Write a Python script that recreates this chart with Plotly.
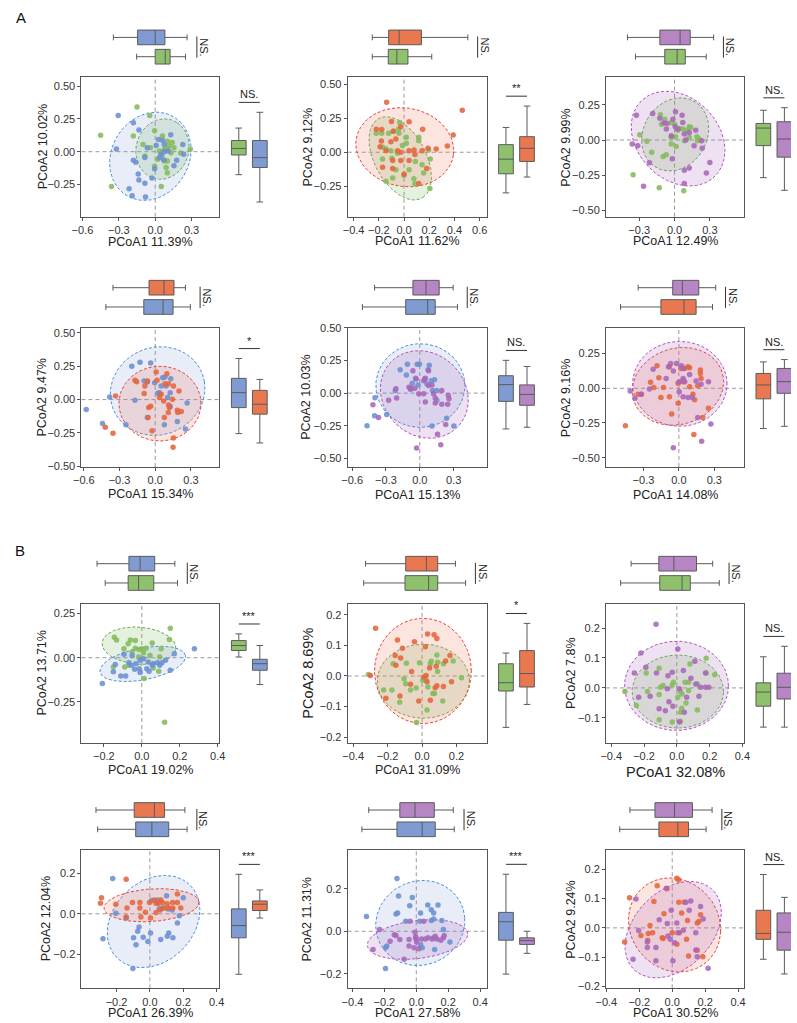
import numpy as np
import plotly.graph_objects as go

W, H = 797, 1023
FONT = "Liberation Sans, Arial, sans-serif"

MARKER = {'blue': '#6b8fd0', 'green': '#84bb5c', 'orange': '#e5653d', 'purple': '#a967b8'}
BOXFILL = {'blue': '#7f9bd1', 'green': '#8fc16d', 'orange': '#e9774f', 'purple': '#b586c3'}
EDGE = {'blue': '#4a8fdc', 'green': '#62ae4b', 'orange': '#e8413a', 'purple': '#b253be'}
FILLC = {'blue': 'rgba(120,150,215,0.17)', 'green': 'rgba(125,185,95,0.20)',
         'orange': 'rgba(240,120,95,0.20)', 'purple': 'rgba(170,110,190,0.20)'}

# ---------------- data: points ----------------
A1_G1_X = [-0.15,-0.45,-0.36,0.05,-0.045,-0.005,-0.18,0.06,0.10,0.115,0.097,0.075,0.035,0.155,0.21,0.29,0.14,0.075,0.09,0.10,-0.005,0.02,-0.085,-0.04,-0.10,0.10,0.13,0.055]
A1_G1_Y = [0.34,0.125,-0.265,-0.265,0.275,0.16,0.12,0.12,0.08,0.043,0.025,0.018,0.005,0.03,-0.01,0.018,0.07,-0.07,-0.12,-0.16,-0.11,-0.058,-0.033,0.03,0.055,-0.07,-0.008,-0.025]
A1_G2_X = [-0.305,-0.18,-0.134,-0.32,-0.18,-0.16,-0.085,-0.065,0.008,0.027,0.06,0.128,0.107,0.07,0.177,0.235,0.228,0.075,0.048,-0.085,-0.027,-0.134,-0.08,-0.19,-0.215,-0.14,-0.005,0.155,0.075,0.035]
A1_G2_Y = [0.275,0.22,0.165,0.02,-0.065,-0.08,-0.045,0.03,0.048,0.093,0.088,0.13,0.005,-0.062,-0.065,-0.02,0.055,0,-0.02,-0.24,-0.2,-0.215,-0.345,-0.335,-0.283,-0.17,-0.13,-0.107,0.055,-0.045]

A2_G1_X = [-0.22,-0.177,-0.122,-0.083,-0.04,-0.044,-0.034,0.117,0.117,0.018,-0.17,-0.143,-0.104,-0.17,-0.096,-0.052,-0.013,0.018,0.195,0.208,0.09,0.143,0.156,0.078,0.086,0.0,-0.09,-0.143,-0.065,0.205,0.04]
A2_G1_Y = [0.14,0.14,0.14,0.156,0.14,0.17,0.22,0.11,0.085,0.11,0.037,0.024,0.012,-0.05,-0.044,-0.007,0.049,0.066,0.017,-0.05,-0.068,-0.093,-0.154,-0.195,-0.232,-0.17,-0.19,-0.215,-0.13,-0.268,-0.13]
A2_G2_X = [-0.138,0.462,0.39,0.148,0.343,0.255,0.19,-0.10,-0.026,0.04,-0.22,-0.177,-0.086,-0.065,-0.104,-0.18,-0.19,-0.143,-0.052,-0.026,0.04,0.08,0.143,0.086,0.04,-0.026,-0.09,-0.17,-0.09,0.18,0.0,0.117]
A2_G2_Y = [0.37,0.31,0.127,0.17,0.046,0.024,0.03,0.227,0.188,0.225,0.17,0.168,0.156,0.098,0.078,0.083,0.041,0.012,0.012,0.0,0.012,0.017,0.012,-0.017,-0.06,-0.06,-0.06,-0.11,-0.12,-0.12,-0.163,-0.23]

A3_G1_X = [-0.12,-0.11,-0.083,-0.028,0.0,0.042,0.028,0.07,0.10,0.138,0.008,-0.028,0.125,0.19,0.208,0.194,-0.235,-0.296,-0.194,-0.097,-0.07,0.014,0.125,-0.352,-0.13,0.078,-0.028,0.083]
A3_G1_Y = [0.18,0.113,0.148,0.125,0.113,0.082,0.07,0.078,0.07,0.09,0.024,0.019,0.019,0.024,0.007,-0.005,-0.009,0.038,-0.087,-0.118,-0.104,-0.047,0.094,-0.247,-0.34,-0.362,-0.028,-0.005]
A3_G2_X = [-0.324,-0.36,-0.313,-0.186,-0.125,-0.09,-0.064,-0.014,0.008,0.064,0.07,0.028,0.006,0.083,0.097,0.125,0.166,0.18,0.23,0.235,-0.213,-0.02,0.083,0.125,0.3,0.27,0.083,-0.263,-0.07,-0.028]
A3_G2_Y = [0.176,-0.028,-0.04,0.188,0.155,0.122,0.118,0.148,0.202,0.176,0.125,0.078,0.094,0.042,0.0,0.054,-0.04,0.07,-0.005,-0.059,-0.162,-0.134,-0.216,-0.2,-0.16,-0.235,-0.31,-0.33,0.078,0.03]

A4_G1_X = [-0.58,-0.443,-0.383,-0.197,-0.128,-0.038,-0.093,-0.066,-0.17,-0.005,0.063,0.082,0.131,0.036,0.104,0.126,0.09,0.268,0.186,0.077,0.254,-0.246,-0.066,0.05,0.022,0.126]
A4_G1_Y = [-0.074,-0.179,0.02,0.25,0.28,0.275,0.139,0.131,-0.005,0.127,0.164,0.169,0.156,0.052,0.015,0.052,0.102,-0.025,-0.164,-0.189,-0.22,-0.189,-0.134,0.102,0.047,-0.052]
A4_G2_X = [-0.333,-0.42,-0.355,-0.17,-0.156,-0.087,-0.093,-0.066,0.008,0.016,0.098,0.112,0.082,0.153,0.2,0.05,0.071,0.112,0.12,0.145,0.186,0.219,0.19,0.11,-0.038,-0.055,-0.06,-0.027,0.153,0.15,0.077,0.036]
A4_G2_Y = [0.027,-0.208,-0.253,0.144,0.134,0.102,0.045,0.139,0.206,0.144,0.194,0.119,0.119,0.102,0.065,0.04,-0.01,-0.04,-0.06,0.002,-0.079,-0.089,-0.097,-0.097,-0.05,-0.06,-0.134,-0.233,-0.288,-0.357,-0.134,0.015]

A5_G1_X = [-0.468,-0.401,-0.398,-0.294,-0.218,-0.174,-0.11,-0.119,-0.038,-0.023,-0.003,0.084,0.073,0.044,0.102,0.131,0.113,0.151,0.064,-0.067,0.108,0.238,0.302,-0.081,-0.015,0.151]
A5_G1_Y = [-0.249,-0.173,-0.035,-0.163,0.02,0.178,0.221,0.138,0.113,0.221,0.221,0.214,0.178,0.108,0.095,0.103,0.02,-0.055,0.07,0.075,-0.251,-0.193,-0.251,0.028,0.063,0.02]
A5_G2_X = [-0.416,-0.366,-0.276,-0.206,-0.212,-0.096,-0.081,-0.061,-0.044,-0.032,0.035,0.049,0.078,0.078,0.108,0.035,0.049,0.122,0.137,0.195,0.195,0.253,0.259,0.247,0.23,0.157,0.186,-0.029,0.137,-0.009]
A5_G2_Y = [-0.088,-0.186,-0.055,-0.038,0.033,0.045,0.038,0.171,0.038,0.108,0.095,0.113,0.171,0.058,0.063,-0.005,-0.068,-0.005,-0.075,0.02,-0.085,-0.018,-0.043,-0.085,-0.239,-0.314,-0.394,-0.42,-0.038,-0.005]

A6_G1_X = [-0.453,-0.345,-0.318,-0.24,-0.213,-0.169,-0.152,-0.185,-0.13,-0.08,-0.08,-0.061,-0.006,0.017,0.036,0.036,0.05,0.077,0.091,0.091,0.16,0.119,0.133,0.182,0.182,0.251,0.127,0.202,0.188,-0.006]
A6_G1_Y = [-0.269,-0.043,-0.043,0.043,0.005,0.076,-0.067,0.162,0.005,-0.06,0.155,-0.186,-0.107,0.143,0.06,0.048,0.143,0.155,0.148,0.012,0.019,-0.043,-0.083,0.131,0.107,-0.143,-0.333,-0.21,0.071,0.036]
A6_G2_X = [-0.412,-0.373,-0.318,-0.249,-0.218,-0.108,-0.088,-0.069,-0.047,-0.019,0.022,0.036,0.05,0.003,0.003,0.036,0.077,0.113,0.146,0.188,0.251,0.16,0.271,0.193,-0.047,0.036,0.091]
A6_G2_Y = [-0.019,-0.071,-0.043,-0.005,0.138,0.071,0.155,0.179,0.124,0.179,0.162,0.071,0.048,0.048,-0.024,-0.06,-0.067,-0.067,0.052,0.029,0.048,-0.21,-0.257,-0.381,-0.429,0.143,0.1]

B1_G1_X = [-0.145,-0.133,-0.15,-0.094,-0.09,-0.072,-0.06,-0.034,-0.034,-0.051,-0.014,0.0,0.009,0.022,0.043,0.055,0.094,0.102,0.15,0.145,0.089,0.012,-0.068,0.12,0.06,-0.017]
B1_G1_Y = [0.116,0.101,-0.052,0.051,-0.052,0.079,0.101,0.097,0.054,0.032,0.047,0.051,0.028,0.054,0.013,0.084,0.004,0.051,0.167,0.103,-0.077,-0.118,-0.043,-0.365,-0.058,0.004]
B1_G2_X = [-0.208,-0.15,-0.111,-0.085,-0.14,-0.094,-0.068,-0.055,-0.038,-0.031,-0.014,-0.009,0.009,0.026,0.038,0.06,0.082,0.094,0.106,0.125,0.15,0.171,0.277,-0.051,0.055,-0.009,0.034]
B1_G2_Y = [-0.146,-0.08,-0.103,-0.103,-0.039,0.019,-0.028,-0.043,-0.066,-0.034,-0.062,-0.015,-0.006,-0.062,-0.077,-0.034,-0.028,-0.043,-0.028,-0.015,-0.071,0.022,0.051,0.013,-0.043,-0.084,-0.024]

B2_G1_X = [-0.312,-0.223,-0.175,-0.168,-0.091,-0.015,-0.105,-0.095,-0.034,0.004,0.015,0.034,0.048,0.053,0.086,0.09,0.09,0.124,0.181,0.229,-0.13,-0.067,0.063,0.072,0.12,0.029,-0.032,0.023]
B2_G1_Y = [0.005,-0.046,-0.046,0.04,0.042,0.043,-0.009,-0.025,-0.039,-0.014,-0.009,-0.036,0.04,0.048,0.069,0.045,0.015,0.04,0.049,-0.006,-0.086,-0.046,-0.057,-0.057,-0.082,-0.111,-0.152,-0.014]
B2_G2_X = [-0.27,-0.30,-0.143,-0.114,-0.044,0.019,0.032,0.07,0.086,-0.124,-0.152,-0.156,-0.061,0.01,0.044,0.082,0.137,0.162,-0.067,0.029,0.086,0.076,0.124,0.171,-0.019,0.048,-0.128,-0.21,0.023]
B2_G2_Y = [0.156,0.002,0.118,0.091,0.112,0.096,0.137,0.135,0.123,0.059,0.035,0.067,0.015,-0.003,0.026,0.032,0.049,0.067,-0.027,-0.019,-0.032,-0.038,-0.034,-0.019,-0.082,-0.079,-0.065,-0.073,0.002]

B3_G1_X = [-0.317,-0.247,-0.187,-0.179,-0.108,-0.1,-0.108,-0.084,-0.028,-0.02,0.022,0.006,0.032,0.05,0.056,0.072,0.072,0.08,0.03,0.022,0.022,-0.028,-0.108,0.125,0.179,0.179,0.231,0.125]
B3_G1_Y = [-0.012,-0.059,0.05,-0.012,0.066,0.002,-0.022,0.008,0.01,0.019,-0.012,-0.031,-0.02,0.019,-0.05,0.019,-0.009,0.08,-0.068,-0.081,-0.111,-0.114,-0.106,-0.074,0.099,0.05,0.044,0.013]
B3_G2_X = [-0.127,-0.219,-0.259,-0.189,-0.124,-0.054,-0.028,0.006,0.04,0.086,0.11,0.116,0.145,0.175,0.175,0.195,0.135,-0.163,-0.108,-0.048,-0.07,-0.024,0.016,0.06,0.046,0.016,-0.058,-0.233]
B3_G2_Y = [0.213,0.117,0.05,0.069,0.05,0.041,0.052,0.13,0.058,0.032,0.089,0.013,0.002,0.05,0.002,0.002,-0.028,-0.028,-0.07,-0.046,-0.076,-0.061,-0.003,-0.031,-0.081,-0.114,-0.003,-0.031]

B4_G1_X = [-0.223,-0.281,-0.204,-0.142,-0.098,-0.073,-0.065,-0.083,-0.04,-0.012,0.004,-0.102,0.011,0.046,0.056,0.075,0.1,0.108,0.113,0.104,0.065,0.138,0.165,0.2,0.177,0.133]
B4_G1_Y = [0.173,-0.123,0.003,-0.021,-0.118,-0.086,-0.065,-0.152,-0.115,-0.136,-0.094,-0.269,0.065,0.068,0.023,0.028,0.088,0.023,-0.094,-0.11,-0.126,-0.118,-0.045,0.079,-0.01,0.019]
B4_G2_X = [-0.29,-0.296,-0.204,-0.142,-0.137,-0.104,-0.06,-0.054,-0.142,-0.027,-0.002,0.027,0.037,0.05,0.065,0.075,0.104,0.113,0.085,0.137,0.165,0.165,0.185,0.004,-0.06,0.037,0.062,0.138]
B4_G2_Y = [0.079,0.052,0.047,0.169,0.028,0.055,0.055,-0.016,-0.016,0.008,0.055,0.068,0.052,0.049,0.068,0.055,0.049,0.028,0.028,0.055,0.097,0.055,0.028,-0.021,0.028,0.006,0.019,0.028]

B5_G1_X = [-0.121,-0.312,-0.117,-0.111,-0.127,-0.041,-0.025,0.027,0.072,0.094,0.109,0.136,0.16,0.17,0.109,-0.066,0.021,0.027,0.037,0.109,0.115,0.211,-0.193,-0.185,-0.193,0.094,-0.004]
B5_G1_Y = [0.249,0.07,0.086,0.166,0.082,0.12,0.159,0.086,0.124,0.101,0.086,0.124,0.051,0.008,0.058,0.047,0.047,-0.062,-0.078,-0.031,-0.086,-0.051,-0.078,-0.07,-0.176,0.051,-0.031]
B5_G2_X = [-0.271,-0.23,-0.164,-0.127,-0.103,-0.045,-0.045,-0.039,-0.008,-0.004,0.0,-0.014,0.016,0.057,0.074,0.099,0.119,0.129,0.154,0.17,0.175,0.047,-0.076,-0.138,0.033,0.002]
B5_G2_Y = [-0.086,0.008,-0.047,-0.02,-0.039,-0.07,-0.039,0.047,-0.005,-0.026,-0.039,-0.078,-0.082,-0.036,-0.031,-0.036,-0.023,-0.036,-0.042,-0.031,-0.02,0.047,-0.132,-0.016,-0.036,-0.051]

B6_G1_X = [-0.289,-0.259,-0.091,0.028,0.04,-0.032,-0.111,0.04,0.073,0.057,0.093,0.152,0.162,0.172,-0.05,-0.135,-0.19,-0.145,-0.119,-0.061,-0.055,0.0,0.044,0.087,0.028,0.152,0.099,0.186,-0.149]
B6_G1_Y = [-0.048,0.103,0.144,0.169,0.163,0.133,0.09,0.087,0.087,0.051,0.025,0.017,0.022,0.045,0.048,0.008,-0.026,-0.019,-0.017,-0.034,-0.036,-0.017,-0.017,-0.039,-0.056,-0.076,-0.096,-0.098,-0.042]
B6_G2_X = [-0.22,-0.238,-0.204,-0.151,-0.151,-0.099,-0.099,-0.079,-0.03,-0.036,-0.006,0.028,0.034,0.014,-0.026,0.004,0.083,0.113,0.103,0.172,0.188,0.143,0.143,0.152,0.218,-0.012,0.067]
B6_G2_Y = [0.098,-0.107,-0.009,-0.048,-0.067,-0.067,-0.112,0.028,0.015,0.135,0.06,0.017,-0.017,-0.051,-0.028,-0.112,0.087,0.092,0.06,0.073,0.03,-0.017,-0.075,-0.098,-0.138,-0.039,-0.008]

# ---------------- data: confidence ellipses [cx, cy, a, b, angle_deg] ----------------
A1_ELL = [[0.06, 0.02, 0.235, 0.215, 60], [-0.04, -0.035, 0.36, 0.31, 45]]
A2_ELL = [[-0.03, -0.045, 0.34, 0.20, -58], [0.006, 0.037, 0.39, 0.29, -8]]
A3_ELL = [[0.005, 0.04, 0.297, 0.247, 30], [0.03, 0.01, 0.42, 0.31, -28]]
A4_ELL = [[0.02, 0.064, 0.40, 0.33, 10], [0.04, -0.03, 0.345, 0.28, 0]]
A5_ELL = [[0.005, 0.058, 0.395, 0.32, 0], [0.04, -0.01, 0.398, 0.326, -20]]
A6_ELL = [[-0.008, 0.014, 0.39, 0.276, 10], [0.008, 0.032, 0.40, 0.306, 0]]
B1_ELL = [[-0.015, 0.068, 0.195, 0.105, -5], [0.005, -0.035, 0.23, 0.09, 12]]
B2_ELL = [[0.008, -0.017, 0.268, 0.121, 0], [0.005, 0.0165, 0.281, 0.172, 0]]
B3_ELL = [[0.006, -0.012, 0.279, 0.122, 0], [-0.002, 0.007, 0.317, 0.149, 0]]
B4_ELL = [[0.022, -0.038, 0.29, 0.21, 25], [0.01, 0.042, 0.285, 0.08, 3]]
B5_ELL = [[0.025, 0.039, 0.28, 0.20, 5], [0.008, -0.039, 0.316, 0.09, 5]]
B6_ELL = [[0.014, 0.01, 0.281, 0.159, -5], [0.006, -0.006, 0.30, 0.15, 15]]

# ---------------- data: box stats [lowerfence, q1, median, q3, upperfence] ----------------
A1_TOP = [[-0.153, 0.0, 0.083, 0.123, 0.25], [-0.345, -0.145, 0.0, 0.08, 0.263]]
A1_RIGHT = [[-0.175, -0.025, 0.025, 0.085, 0.18], [-0.383, -0.12, -0.045, 0.085, 0.30]]
A2_TOP = [[-0.252, -0.125, -0.057, 0.031, 0.22], [-0.252, -0.122, -0.039, 0.138, 0.506]]
A2_RIGHT = [[-0.30, -0.159, -0.051, 0.056, 0.183], [-0.183, -0.068, 0.029, 0.115, 0.341]]
A3_TOP = [[-0.332, -0.083, 0.022, 0.091, 0.269], [-0.40, -0.125, 0.047, 0.133, 0.332]]
A3_RIGHT = [[-0.268, -0.04, 0.085, 0.118, 0.212], [-0.358, -0.122, 0.007, 0.13, 0.23]]
A4_TOP = [[-0.415, -0.096, 0.066, 0.15, 0.295], [-0.355, -0.052, 0.074, 0.158, 0.254]]
A4_RIGHT = [[-0.255, -0.06, 0.052, 0.159, 0.308], [-0.325, -0.109, -0.035, 0.069, 0.151]]
A5_TOP = [[-0.509, -0.125, 0.07, 0.137, 0.334], [-0.401, -0.061, 0.055, 0.172, 0.296]]
A5_RIGHT = [[-0.274, -0.063, 0.065, 0.133, 0.251], [-0.261, -0.093, -0.01, 0.063, 0.204]]
A6_TOP = [[-0.494, -0.152, 0.044, 0.146, 0.285], [-0.345, -0.052, 0.03, 0.169, 0.312]]
A6_RIGHT = [[-0.29, -0.076, 0.024, 0.107, 0.19], [-0.274, -0.036, 0.048, 0.143, 0.207]]
B1_TOP = [[-0.193, -0.072, -0.017, 0.063, 0.188], [-0.236, -0.068, -0.009, 0.068, 0.174]]
B1_RIGHT = [[0.004, 0.041, 0.069, 0.097, 0.135], [-0.152, -0.071, -0.034, -0.009, 0.069]]
B2_TOP = [[-0.339, -0.099, 0.038, 0.091, 0.253], [-0.328, -0.095, 0.025, 0.091, 0.194]]
B2_RIGHT = [[-0.168, -0.049, -0.022, 0.04, 0.075], [-0.093, -0.036, 0.008, 0.083, 0.172]]
B3_TOP = [[-0.343, -0.104, 0.032, 0.082, 0.259], [-0.279, -0.11, -0.018, 0.12, 0.219]]
B3_RIGHT = [[-0.131, -0.061, -0.014, 0.017, 0.104], [-0.131, -0.037, 0.002, 0.049, 0.139]]
B4_TOP = [[-0.313, -0.085, 0.012, 0.113, 0.223], [-0.323, -0.094, 0.027, 0.088, 0.21]]
B4_RIGHT = [[-0.297, -0.118, -0.058, 0.024, 0.194], [-0.021, 0.016, 0.047, 0.063, 0.117]]
B5_TOP = [[-0.341, -0.121, 0.037, 0.119, 0.238], [-0.298, -0.103, -0.008, 0.113, 0.232]]
B5_RIGHT = [[-0.202, -0.042, 0.045, 0.089, 0.269], [-0.104, -0.062, -0.044, -0.031, 0.0]]
B6_TOP = [[-0.319, -0.081, 0.034, 0.099, 0.206], [-0.257, -0.105, 0.014, 0.123, 0.242]]
B6_RIGHT = [[-0.107, -0.039, -0.019, 0.06, 0.182], [-0.157, -0.076, -0.015, 0.051, 0.104]]

# ---------------- labels / ticks ----------------
X_TITLES = ['PCoA1 11.39%', 'PCoA1 11.62%', 'PCoA1 12.49%', 'PCoA1 15.34%', 'PCoA1 15.13%', 'PCoA1 14.08%',
            'PCoA1 19.02%', 'PCoA1 31.09%', 'PCoA1 32.08%', 'PCoA1 26.39%', 'PCoA1 27.58%', 'PCoA1 30.52%']
Y_TITLES = ['PCoA2 10.02%', 'PCoA2 9.12%', 'PCoA2 9.99%', 'PCoA2 9.47%', 'PCoA2 10.03%', 'PCoA2 9.16%',
            'PCoA2 13.71%', 'PCoA2 8.69%', 'PCoA2 7.8%', 'PCoA2 12.04%', 'PCoA2 11.31%', 'PCoA2 9.24%']
SIG_TOP = ['NS.'] * 12
SIG_RIGHT = ['NS.', '**', 'NS.', '*', 'NS.', 'NS.', '***', '*', 'NS.', '***', '***', 'NS.']
GROUPS = [('green', 'blue'), ('green', 'orange'), ('green', 'purple'),
          ('blue', 'orange'), ('blue', 'purple'), ('orange', 'purple'),
          ('green', 'blue'), ('green', 'orange'), ('green', 'purple'),
          ('blue', 'orange'), ('blue', 'purple'), ('orange', 'purple')]
X_RANGES = [[-0.608, 0.53], [-0.447, 0.655], [-0.582, 0.59], [-0.62, 0.54], [-0.64, 0.593], [-0.617, 0.552],
            [-0.318, 0.409], [-0.432, 0.375], [-0.432, 0.41], [-0.41, 0.417], [-0.43, 0.441], [-0.402, 0.436]]
Y_RANGES = [[-0.495, 0.567], [-0.476, 0.554], [-0.546, 0.447], [-0.505, 0.54], [-0.565, 0.502], [-0.567, 0.438],
            [-0.483, 0.307], [-0.219, 0.237], [-0.184, 0.282], [-0.366, 0.314], [-0.269, 0.384], [-0.206, 0.266]]
X_TICKS = [[-0.6, -0.3, 0, 0.3], [-0.4, -0.2, 0, 0.2, 0.4, 0.6], [-0.3, 0, 0.3], [-0.6, -0.3, 0, 0.3],
           [-0.6, -0.3, 0, 0.3], [-0.3, 0, 0.3], [-0.2, 0, 0.2, 0.4], [-0.4, -0.2, 0, 0.2],
           [-0.4, -0.2, 0, 0.2, 0.4], [-0.2, 0, 0.2, 0.4], [-0.4, -0.2, 0, 0.2, 0.4], [-0.4, -0.2, 0, 0.2, 0.4]]
Y_TICKS = [[-0.25, 0, 0.25, 0.5], [-0.25, 0, 0.25, 0.5], [-0.5, -0.25, 0, 0.25], [-0.5, -0.25, 0, 0.25, 0.5],
           [-0.5, -0.25, 0, 0.25, 0.5], [-0.5, -0.25, 0, 0.25], [-0.25, 0, 0.25], [-0.2, -0.1, 0, 0.1, 0.2],
           [-0.1, 0, 0.1, 0.2], [-0.2, 0, 0.2], [-0.2, 0, 0.2], [-0.2, -0.1, 0, 0.1, 0.2]]
Y_FMT = ['.2f'] * 7 + ['.1f'] * 5

PTS = [((A1_G1_X, A1_G1_Y), (A1_G2_X, A1_G2_Y)), ((A2_G1_X, A2_G1_Y), (A2_G2_X, A2_G2_Y)),
       ((A3_G1_X, A3_G1_Y), (A3_G2_X, A3_G2_Y)), ((A4_G1_X, A4_G1_Y), (A4_G2_X, A4_G2_Y)),
       ((A5_G1_X, A5_G1_Y), (A5_G2_X, A5_G2_Y)), ((A6_G1_X, A6_G1_Y), (A6_G2_X, A6_G2_Y)),
       ((B1_G1_X, B1_G1_Y), (B1_G2_X, B1_G2_Y)), ((B2_G1_X, B2_G1_Y), (B2_G2_X, B2_G2_Y)),
       ((B3_G1_X, B3_G1_Y), (B3_G2_X, B3_G2_Y)), ((B4_G1_X, B4_G1_Y), (B4_G2_X, B4_G2_Y)),
       ((B5_G1_X, B5_G1_Y), (B5_G2_X, B5_G2_Y)), ((B6_G1_X, B6_G1_Y), (B6_G2_X, B6_G2_Y))]
ELLS = [A1_ELL, A2_ELL, A3_ELL, A4_ELL, A5_ELL, A6_ELL, B1_ELL, B2_ELL, B3_ELL, B4_ELL, B5_ELL, B6_ELL]
TOPS = [A1_TOP, A2_TOP, A3_TOP, A4_TOP, A5_TOP, A6_TOP, B1_TOP, B2_TOP, B3_TOP, B4_TOP, B5_TOP, B6_TOP]
RIGHTS = [A1_RIGHT, A2_RIGHT, A3_RIGHT, A4_RIGHT, A5_RIGHT, A6_RIGHT,
          B1_RIGHT, B2_RIGHT, B3_RIGHT, B4_RIGHT, B5_RIGHT, B6_RIGHT]

# ---------------- layout geometry (pixels) ----------------
COLS = [(72, 213), (344, 486), (608, 749)]
ROWS = [(72, 213), (325, 466), (604, 745), (853, 993)]
YT_OFF = [39, 41, 41, 40, 42, 41, 40, 40, 36, 36, 41, 36]
XT_OFF = [26, 25, 25, 27, 28, 28, 27, 27, 29, 25, 25, 25]
XT_SIZE = [12.5] * 8 + [14.5] + [12.5] * 3
YT_SIZE = [12.5] * 7 + [14.5] + [12.5] * 4
RB_UNIT = 21.5  # px per box slot in the right-hand box panel


def px(x):
    return min(max(x / W, 0.0), 1.0)


def py(y):
    return min(max(1 - y / H, 0.0), 1.0)


def ell_xy(p):
    cx, cy, a, b, ang = p
    t = np.linspace(0, 2 * np.pi, 160)
    th = np.deg2rad(ang)
    x = cx + a * np.cos(t) * np.cos(th) - b * np.sin(t) * np.sin(th)
    y = cy + a * np.cos(t) * np.sin(th) + b * np.sin(t) * np.cos(th)
    return x, y


traces, shapes, annos = [], [], []
lay = dict(width=W, height=H, margin=dict(l=0, r=0, t=0, b=0), autosize=False,
           paper_bgcolor='white', plot_bgcolor='white', showlegend=False,
           font=dict(family=FONT, size=11, color='#333'))

BOXLINE = '#5b5b5b'

for i in range(12):
    L, R = COLS[i % 3]
    T, B = ROWS[i // 3]
    ids = [3 * i + 1, 3 * i + 2, 3 * i + 3]
    xn = ['x' if k == 1 else f'x{k}' for k in ids]
    yn = ['y' if k == 1 else f'y{k}' for k in ids]
    xa = ['xaxis' if k == 1 else f'xaxis{k}' for k in ids]
    ya = ['yaxis' if k == 1 else f'yaxis{k}' for k in ids]
    xr, yr = X_RANGES[i], Y_RANGES[i]
    g1, g2 = GROUPS[i]

    tickfont = dict(size=11, color='#333', family=FONT)
    lay[xa[0]] = dict(domain=[px(L), px(R)], range=xr, anchor=yn[0], tickvals=X_TICKS[i], tickformat='.1f',
                      showline=True, mirror=True, linecolor='#555', linewidth=1, ticks='outside',
                      ticklen=3, tickcolor='#555', showgrid=False, zeroline=False, tickfont=tickfont)
    lay[ya[0]] = dict(domain=[py(B), py(T)], range=yr, anchor=xn[0], tickvals=Y_TICKS[i], tickformat=Y_FMT[i],
                      showline=True, mirror=True, linecolor='#555', linewidth=1, ticks='outside',
                      ticklen=3, tickcolor='#555', showgrid=False, zeroline=False, tickfont=tickfont)
    lay[xa[1]] = dict(domain=[px(L), px(R)], range=xr, anchor=yn[1], visible=False)
    lay[ya[1]] = dict(domain=[py(T - 11), py(T - 50)], range=[-0.5, 1.5], anchor=xn[1], visible=False)
    rb0 = R + 9
    rb1 = min(R + 9 + 2 * RB_UNIT, W)
    lay[xa[2]] = dict(domain=[px(rb0), px(rb1)], range=[-0.5, -0.5 + (rb1 - rb0) / RB_UNIT],
                      anchor=yn[2], visible=False)
    lay[ya[2]] = dict(domain=[py(B), py(T)], range=yr, anchor=xn[2], visible=False)

    dash = dict(color='#9a9a9a', width=1, dash='4px,3px')
    shapes.append(dict(type='line', xref=xn[0], yref=f'{yn[0]} domain', x0=0, x1=0, y0=0, y1=1,
                       line=dash, layer='below'))
    shapes.append(dict(type='line', xref=f'{xn[0]} domain', yref=yn[0], x0=0, x1=1, y0=0, y1=0,
                       line=dash, layer='below'))

    for g, e in zip((g1, g2), ELLS[i]):
        ex, ey = ell_xy(e)
        traces.append(go.Scatter(x=ex, y=ey, mode='lines', fill='toself', fillcolor=FILLC[g],
                                 line=dict(color=EDGE[g], width=1, dash='3px,2px'),
                                 xaxis=xn[0], yaxis=yn[0], hoverinfo='skip'))
    for g, (vx, vy) in zip((g1, g2), PTS[i]):
        traces.append(go.Scatter(x=vx, y=vy, mode='markers',
                                 marker=dict(size=5.5, color=MARKER[g], opacity=0.88, line=dict(width=0)),
                                 xaxis=xn[0], yaxis=yn[0], hoverinfo='skip'))
    for pos, (g, s) in enumerate(zip((g1, g2), TOPS[i])):
        traces.append(go.Box(orientation='h', y=[pos], lowerfence=[s[0]], q1=[s[1]], median=[s[2]],
                             q3=[s[3]], upperfence=[s[4]], width=0.76, whiskerwidth=0.4,
                             fillcolor=BOXFILL[g], line=dict(color=BOXLINE, width=1), boxpoints=False,
                             xaxis=xn[1], yaxis=yn[1], hoverinfo='skip'))
    for pos, (g, s) in enumerate(zip((g1, g2), RIGHTS[i])):
        traces.append(go.Box(x=[pos], lowerfence=[s[0]], q1=[s[1]], median=[s[2]],
                             q3=[s[3]], upperfence=[s[4]], width=0.7, whiskerwidth=0.45,
                             fillcolor=BOXFILL[g], line=dict(color=BOXLINE, width=1), boxpoints=False,
                             xaxis=xn[2], yaxis=yn[2], hoverinfo='skip'))

    xppu = (R - L) / (xr[1] - xr[0])
    yppu = (B - T) / (yr[1] - yr[0])
    xl = max(TOPS[i][0][4], TOPS[i][1][4]) + 10 / xppu
    shapes.append(dict(type='line', xref=xn[1], yref=yn[1], x0=xl, x1=xl, y0=-0.05, y1=1.05,
                       line=dict(color='#333', width=1)))
    annos.append(dict(xref=xn[1], yref=yn[1], x=xl + 7 / xppu, y=0.5, text=SIG_TOP[i], textangle=90,
                      showarrow=False, font=dict(size=11, color='#222', family=FONT)))
    yl = max(RIGHTS[i][0][4], RIGHTS[i][1][4]) + 10 / yppu
    shapes.append(dict(type='line', xref=xn[2], yref=yn[2], x0=0, x1=1, y0=yl, y1=yl,
                       line=dict(color='#333', width=1)))
    annos.append(dict(xref=xn[2], yref=yn[2], x=0.5, y=yl, yanchor='bottom', text=SIG_RIGHT[i],
                      showarrow=False, font=dict(size=11, color='#222', family=FONT)))

    annos.append(dict(xref='paper', yref='paper', x=px((L + R) / 2), y=py(B + XT_OFF[i]), text=X_TITLES[i],
                      showarrow=False, xanchor='center', yanchor='middle',
                      font=dict(size=XT_SIZE[i], color='#222', family=FONT)))
    annos.append(dict(xref='paper', yref='paper', x=px(L - YT_OFF[i]), y=py((T + B) / 2), text=Y_TITLES[i],
                      showarrow=False, xanchor='center', yanchor='middle', textangle=-90,
                      font=dict(size=YT_SIZE[i], color='#222', family=FONT)))

annos.append(dict(xref='paper', yref='paper', x=px(3), y=py(1), text='A', showarrow=False,
                  xanchor='left', yanchor='top', font=dict(size=15, color='#111', family=FONT)))
annos.append(dict(xref='paper', yref='paper', x=px(2), y=py(540), text='B', showarrow=False,
                  xanchor='left', yanchor='top', font=dict(size=15, color='#111', family=FONT)))

lay['shapes'] = shapes
lay['annotations'] = annos
fig = go.Figure(data=traces, layout=lay)
fig.write_html("out.html")
